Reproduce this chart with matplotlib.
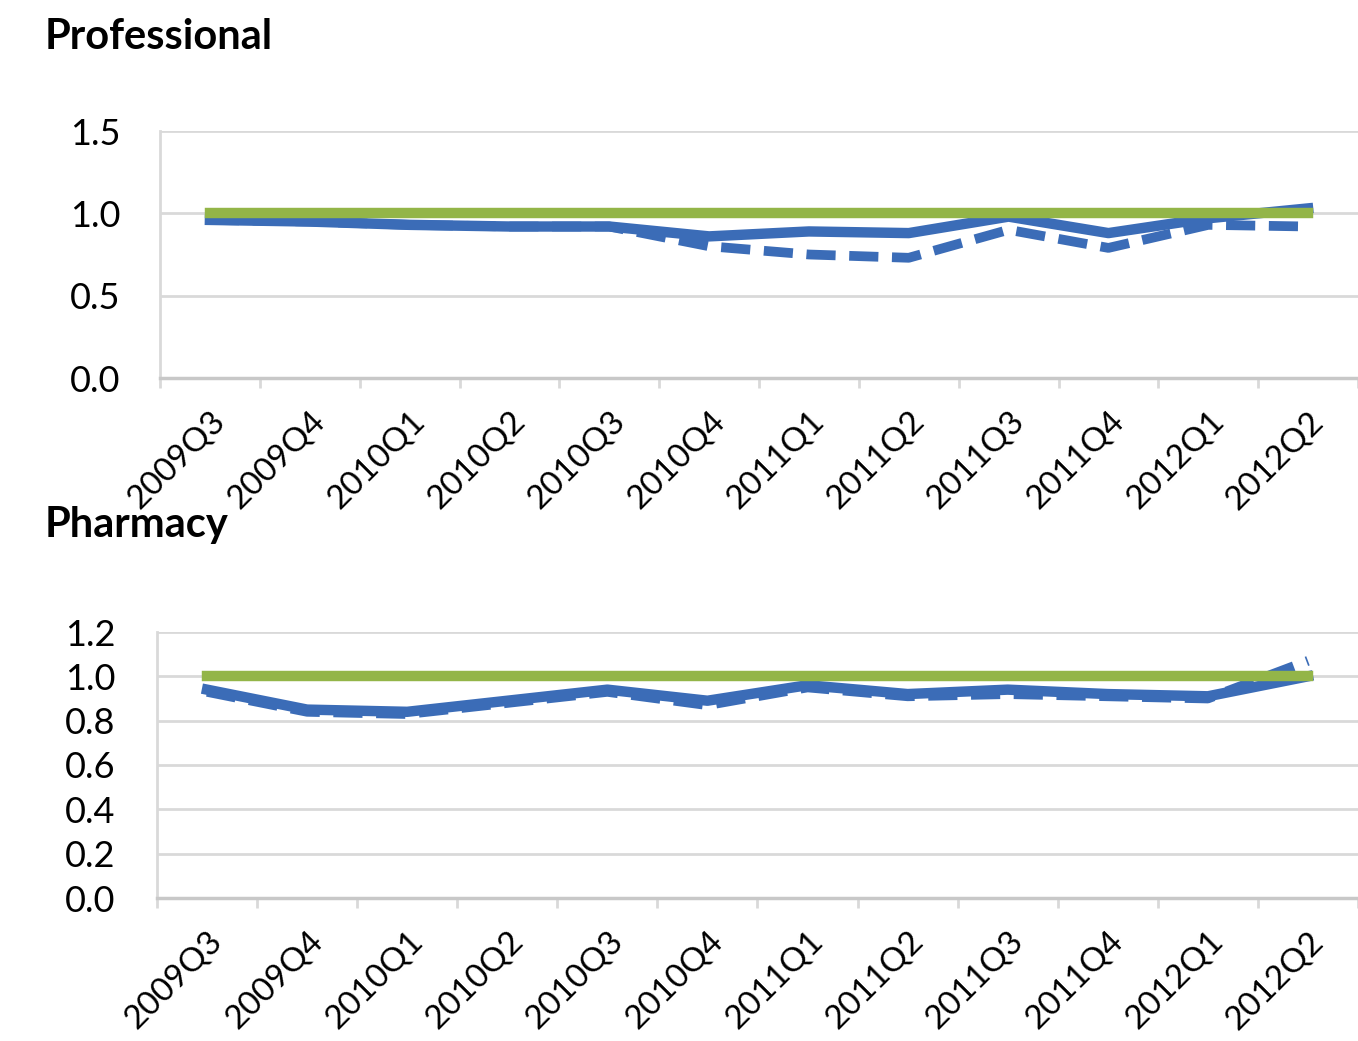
import matplotlib.pyplot as plt
import numpy as np

quarters = ["2009Q3", "2009Q4", "2010Q1", "2010Q2", "2010Q3", "2010Q4",
            "2011Q1", "2011Q2", "2011Q3", "2011Q4", "2012Q1", "2012Q2"]

# Professional
prof_target = [1.0] * 12
prof_solid = [0.96, 0.95, 0.93, 0.92, 0.92, 0.86, 0.89, 0.88, 0.98, 0.88, 0.97, 1.03]
prof_dashed = [0.96, 0.95, 0.93, 0.92, 0.92, 0.80, 0.75, 0.73, 0.90, 0.79, 0.93, 0.92]

# Pharmacy
pharm_target = [1.0] * 12
pharm_solid = [0.94, 0.85, 0.84, 0.89, 0.94, 0.89, 0.96, 0.92, 0.94, 0.92, 0.91, 1.00]
pharm_dashed = [0.93, 0.84, 0.83, 0.88, 0.93, 0.87, 0.95, 0.91, 0.92, 0.91, 0.90, 1.07]

GREEN = "#93b548"
BLUE = "#3b6cb7"
GRID = "#d9d9d9"

plt.rcParams["font.family"] = ["Lato", "DejaVu Sans"]

fig = plt.figure(figsize=(13.58, 10.41), dpi=100)


def panel(rect, title, title_y, target, solid, dashed, ylim, yticks, xlim, ypad):
    ax = fig.add_axes(rect)
    x = np.arange(len(quarters))
    ax.plot(x, dashed, color=BLUE, lw=7, ls=(0, (3.0, 1.4)), zorder=3,
            solid_capstyle="butt")
    ax.plot(x, solid, color=BLUE, lw=7.5, zorder=4, solid_joinstyle="round")
    ax.plot(x, target, color=GREEN, lw=7.5, zorder=5)
    ax.set_ylim(*ylim)
    ax.set_yticks(yticks)
    ax.set_yticklabels([f"{v:.1f}" for v in yticks])
    ax.set_xlim(*xlim)
    ax.set_xticks(x)
    ax.set_xticklabels(quarters, rotation=45, ha="right", rotation_mode="anchor")
    ax.set_xticks(np.arange(-0.5, len(quarters), 1), minor=True)
    ax.tick_params(axis="x", which="major", length=0, pad=20, labelsize=24)
    ax.tick_params(axis="x", which="minor", length=7, color=GRID, width=2)
    ax.tick_params(axis="y", length=0, pad=ypad, labelsize=26)
    for lbl in ax.get_yticklabels():
        lbl.set_horizontalalignment("left")
    ax.grid(axis="y", color=GRID, lw=2)
    ax.set_axisbelow(True)
    for s in ["top", "right"]:
        ax.spines[s].set_visible(False)
    ax.spines["left"].set_color(GRID)
    ax.spines["left"].set_linewidth(2)
    ax.spines["bottom"].set_color("#c8c8c8")
    ax.spines["bottom"].set_linewidth(2.5)
    fig.text(45 / 1358, title_y, title, fontsize=30, fontweight="bold",
             va="center", ha="left")
    return ax


panel([160 / 1358, 663 / 1041, 1198 / 1358, 247 / 1041], "Professional",
      1 - 37 / 1041, prof_target, prof_solid, prof_dashed,
      (0, 1.5), [0.0, 0.5, 1.0, 1.5], (-0.39, 11.24), 65)

panel([157 / 1358, 143 / 1041, 1201 / 1358, 266 / 1041], "Pharmacy",
      1 - 525 / 1041, pharm_target, pharm_solid, pharm_dashed,
      (0, 1.2), [0.0, 0.2, 0.4, 0.6, 0.8, 1.0, 1.2], (-0.42, 11.32), 66)

fig.savefig("out.png", dpi=100)
